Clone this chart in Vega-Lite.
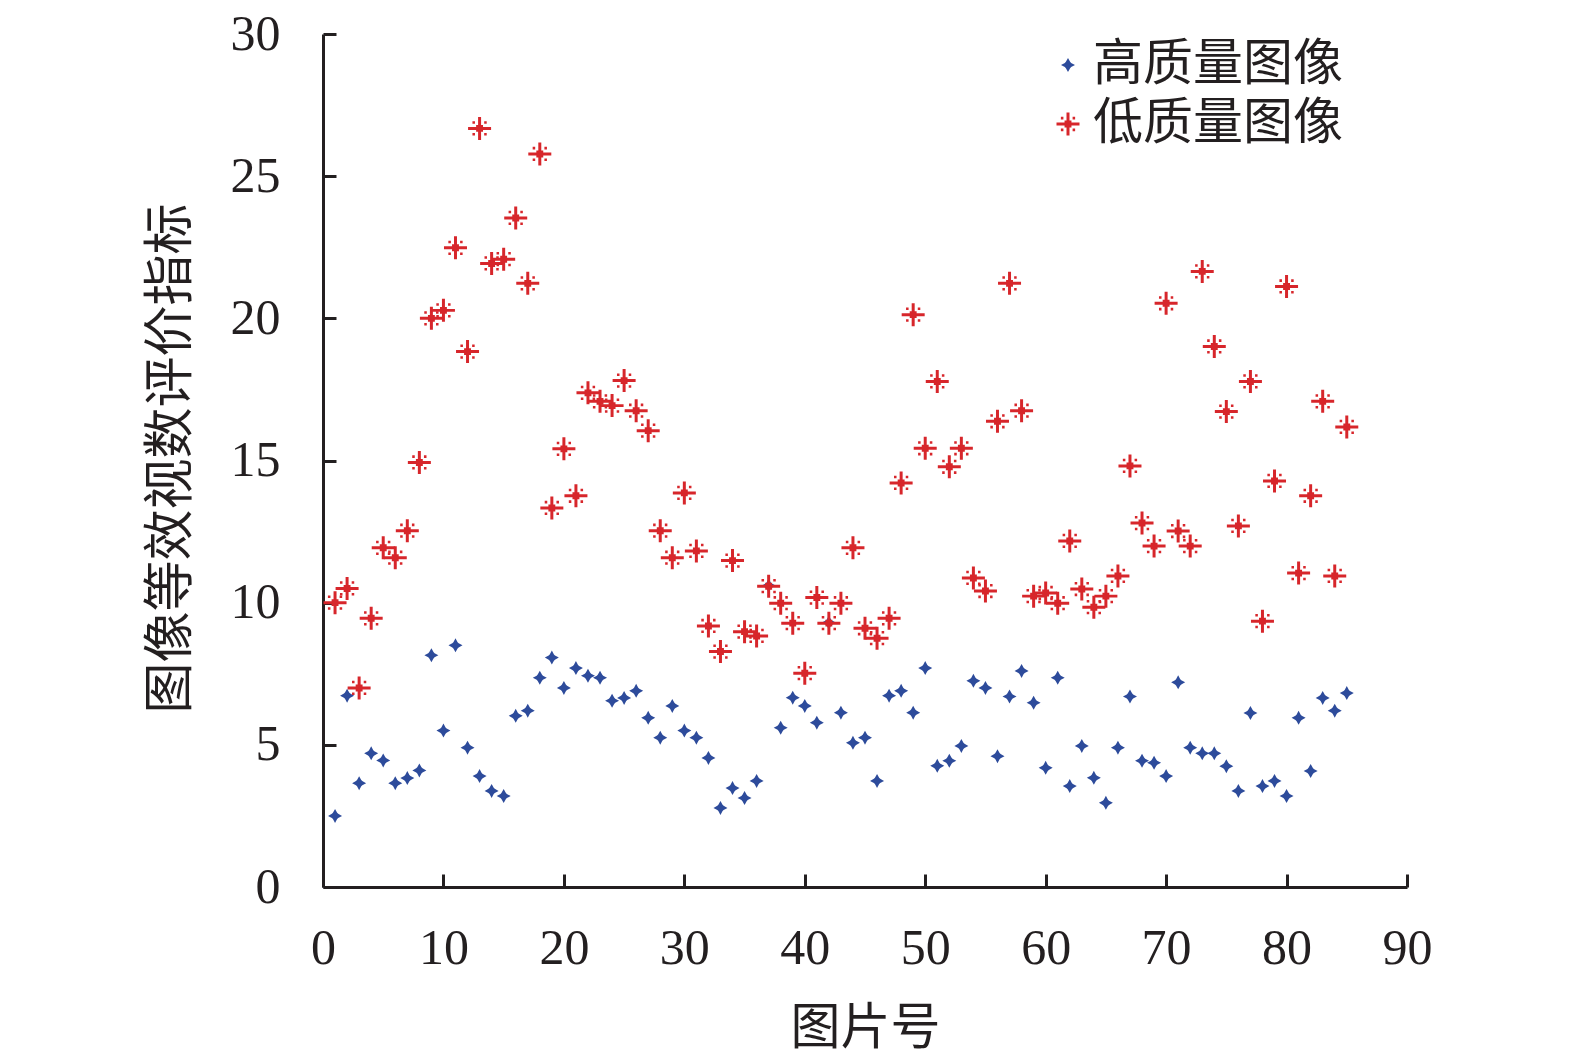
{
  "$schema": "https://vega.github.io/schema/vega-lite/v6.json",
  "width": 1084,
  "height": 853,
  "autosize": {"type": "none"},
  "padding": {"left": 323, "top": 34, "right": 168, "bottom": 172},
  "background": "white",
  "config": {
    "view": {"stroke": null},
    "axis": {"grid": false}
  },
  "datasets": {
    "points": [
      {"id":1,"value":2.5,"type":"高质量图像"},{"id":2,"value":6.73,"type":"高质量图像"},{"id":3,"value":3.65,"type":"高质量图像"},{"id":4,"value":4.7,"type":"高质量图像"},{"id":5,"value":4.45,"type":"高质量图像"},
      {"id":6,"value":3.65,"type":"高质量图像"},{"id":7,"value":3.83,"type":"高质量图像"},{"id":8,"value":4.1,"type":"高质量图像"},{"id":9,"value":8.15,"type":"高质量图像"},{"id":10,"value":5.5,"type":"高质量图像"},
      {"id":11,"value":8.5,"type":"高质量图像"},{"id":12,"value":4.9,"type":"高质量图像"},{"id":13,"value":3.9,"type":"高质量图像"},{"id":14,"value":3.38,"type":"高质量图像"},{"id":15,"value":3.2,"type":"高质量图像"},
      {"id":16,"value":6.02,"type":"高质量图像"},{"id":17,"value":6.2,"type":"高质量图像"},{"id":18,"value":7.36,"type":"高质量图像"},{"id":19,"value":8.07,"type":"高质量图像"},{"id":20,"value":7.0,"type":"高质量图像"},
      {"id":21,"value":7.7,"type":"高质量图像"},{"id":22,"value":7.43,"type":"高质量图像"},{"id":23,"value":7.36,"type":"高质量图像"},{"id":24,"value":6.55,"type":"高质量图像"},{"id":25,"value":6.65,"type":"高质量图像"},
      {"id":26,"value":6.9,"type":"高质量图像"},{"id":27,"value":5.95,"type":"高质量图像"},{"id":28,"value":5.25,"type":"高质量图像"},{"id":29,"value":6.37,"type":"高质量图像"},{"id":30,"value":5.5,"type":"高质量图像"},
      {"id":31,"value":5.25,"type":"高质量图像"},{"id":32,"value":4.54,"type":"高质量图像"},{"id":33,"value":2.78,"type":"高质量图像"},{"id":34,"value":3.48,"type":"高质量图像"},{"id":35,"value":3.13,"type":"高质量图像"},
      {"id":36,"value":3.73,"type":"高质量图像"},{"id":37,"value":10.6,"type":"高质量图像"},{"id":38,"value":5.6,"type":"高质量图像"},{"id":39,"value":6.66,"type":"高质量图像"},{"id":40,"value":6.37,"type":"高质量图像"},
      {"id":41,"value":5.78,"type":"高质量图像"},{"id":42,"value":9.3,"type":"高质量图像"},{"id":43,"value":6.13,"type":"高质量图像"},{"id":44,"value":5.07,"type":"高质量图像"},{"id":45,"value":5.25,"type":"高质量图像"},
      {"id":46,"value":3.73,"type":"高质量图像"},{"id":47,"value":6.73,"type":"高质量图像"},{"id":48,"value":6.9,"type":"高质量图像"},{"id":49,"value":6.13,"type":"高质量图像"},{"id":50,"value":7.7,"type":"高质量图像"},
      {"id":51,"value":4.26,"type":"高质量图像"},{"id":52,"value":4.44,"type":"高质量图像"},{"id":53,"value":4.96,"type":"高质量图像"},{"id":54,"value":7.25,"type":"高质量图像"},{"id":55,"value":7.0,"type":"高质量图像"},
      {"id":56,"value":4.6,"type":"高质量图像"},{"id":57,"value":6.7,"type":"高质量图像"},{"id":58,"value":7.6,"type":"高质量图像"},{"id":59,"value":6.48,"type":"高质量图像"},{"id":60,"value":4.19,"type":"高质量图像"},
      {"id":61,"value":7.36,"type":"高质量图像"},{"id":62,"value":3.55,"type":"高质量图像"},{"id":63,"value":4.96,"type":"高质量图像"},{"id":64,"value":3.84,"type":"高质量图像"},{"id":65,"value":2.96,"type":"高质量图像"},
      {"id":66,"value":4.9,"type":"高质量图像"},{"id":67,"value":6.7,"type":"高质量图像"},{"id":68,"value":4.44,"type":"高质量图像"},{"id":69,"value":4.37,"type":"高质量图像"},{"id":70,"value":3.9,"type":"高质量图像"},
      {"id":71,"value":7.2,"type":"高质量图像"},{"id":72,"value":4.9,"type":"高质量图像"},{"id":73,"value":4.7,"type":"高质量图像"},{"id":74,"value":4.7,"type":"高质量图像"},{"id":75,"value":4.25,"type":"高质量图像"},
      {"id":76,"value":3.38,"type":"高质量图像"},{"id":77,"value":6.12,"type":"高质量图像"},{"id":78,"value":3.55,"type":"高质量图像"},{"id":79,"value":3.73,"type":"高质量图像"},{"id":80,"value":3.2,"type":"高质量图像"},
      {"id":81,"value":5.95,"type":"高质量图像"},{"id":82,"value":4.08,"type":"高质量图像"},{"id":83,"value":6.65,"type":"高质量图像"},{"id":84,"value":6.2,"type":"高质量图像"},{"id":85,"value":6.82,"type":"高质量图像"},
      {"id":1,"value":10.0,"type":"低质量图像"},{"id":2,"value":10.5,"type":"低质量图像"},{"id":3,"value":7.0,"type":"低质量图像"},{"id":4,"value":9.45,"type":"低质量图像"},{"id":5,"value":11.93,"type":"低质量图像"},
      {"id":6,"value":11.58,"type":"低质量图像"},{"id":7,"value":12.53,"type":"低质量图像"},{"id":8,"value":14.93,"type":"低质量图像"},{"id":9,"value":20.0,"type":"低质量图像"},{"id":10,"value":20.28,"type":"低质量图像"},
      {"id":11,"value":22.48,"type":"低质量图像"},{"id":12,"value":18.83,"type":"低质量图像"},{"id":13,"value":26.68,"type":"低质量图像"},{"id":14,"value":21.93,"type":"低质量图像"},{"id":15,"value":22.08,"type":"低质量图像"},
      {"id":16,"value":23.53,"type":"低质量图像"},{"id":17,"value":21.23,"type":"低质量图像"},{"id":18,"value":25.78,"type":"低质量图像"},{"id":19,"value":13.33,"type":"低质量图像"},{"id":20,"value":15.41,"type":"低质量图像"},
      {"id":21,"value":13.76,"type":"低质量图像"},{"id":22,"value":17.38,"type":"低质量图像"},{"id":23,"value":17.08,"type":"低质量图像"},{"id":24,"value":16.93,"type":"低质量图像"},{"id":25,"value":17.81,"type":"低质量图像"},
      {"id":26,"value":16.75,"type":"低质量图像"},{"id":27,"value":16.05,"type":"低质量图像"},{"id":28,"value":12.53,"type":"低质量图像"},{"id":29,"value":11.58,"type":"低质量图像"},{"id":30,"value":13.86,"type":"低质量图像"},
      {"id":31,"value":11.82,"type":"低质量图像"},{"id":32,"value":9.18,"type":"低质量图像"},{"id":33,"value":8.28,"type":"低质量图像"},{"id":34,"value":11.48,"type":"低质量图像"},{"id":35,"value":8.98,"type":"低质量图像"},
      {"id":36,"value":8.83,"type":"低质量图像"},{"id":37,"value":10.58,"type":"低质量图像"},{"id":38,"value":9.98,"type":"低质量图像"},{"id":39,"value":9.28,"type":"低质量图像"},{"id":40,"value":7.52,"type":"低质量图像"},
      {"id":41,"value":10.18,"type":"低质量图像"},{"id":42,"value":9.28,"type":"低质量图像"},{"id":43,"value":9.98,"type":"低质量图像"},{"id":44,"value":11.93,"type":"低质量图像"},{"id":45,"value":9.1,"type":"低质量图像"},
      {"id":46,"value":8.75,"type":"低质量图像"},{"id":47,"value":9.45,"type":"低质量图像"},{"id":48,"value":14.21,"type":"低质量图像"},{"id":49,"value":20.13,"type":"低质量图像"},{"id":50,"value":15.43,"type":"低质量图像"},
      {"id":51,"value":17.78,"type":"低质量图像"},{"id":52,"value":14.78,"type":"低质量图像"},{"id":53,"value":15.43,"type":"低质量图像"},{"id":54,"value":10.87,"type":"低质量图像"},{"id":55,"value":10.41,"type":"低质量图像"},
      {"id":56,"value":16.38,"type":"低质量图像"},{"id":57,"value":21.23,"type":"低质量图像"},{"id":58,"value":16.75,"type":"低质量图像"},{"id":59,"value":10.23,"type":"低质量图像"},{"id":60,"value":10.34,"type":"低质量图像"},
      {"id":61,"value":9.98,"type":"低质量图像"},{"id":62,"value":12.17,"type":"低质量图像"},{"id":63,"value":10.48,"type":"低质量图像"},{"id":64,"value":9.84,"type":"低质量图像"},{"id":65,"value":10.23,"type":"低质量图像"},
      {"id":66,"value":10.94,"type":"低质量图像"},{"id":67,"value":14.81,"type":"低质量图像"},{"id":68,"value":12.8,"type":"低质量图像"},{"id":69,"value":11.99,"type":"低质量图像"},{"id":70,"value":20.53,"type":"低质量图像"},
      {"id":71,"value":12.52,"type":"低质量图像"},{"id":72,"value":11.99,"type":"低质量图像"},{"id":73,"value":21.65,"type":"低质量图像"},{"id":74,"value":19.01,"type":"低质量图像"},{"id":75,"value":16.72,"type":"低质量图像"},
      {"id":76,"value":12.7,"type":"低质量图像"},{"id":77,"value":17.78,"type":"低质量图像"},{"id":78,"value":9.35,"type":"低质量图像"},{"id":79,"value":14.28,"type":"低质量图像"},{"id":80,"value":21.12,"type":"低质量图像"},
      {"id":81,"value":11.04,"type":"低质量图像"},{"id":82,"value":13.76,"type":"低质量图像"},{"id":83,"value":17.08,"type":"低质量图像"},{"id":84,"value":10.94,"type":"低质量图像"},{"id":85,"value":16.18,"type":"低质量图像"}
    ]
  },
  "data": {"name": "points"},
  "mark": {"type": "point", "filled": true, "opacity": 1, "strokeWidth": 0},
  "encoding": {
    "x": {
      "field": "id", "type": "quantitative",
      "scale": {"domain": [0, 90], "nice": false, "zero": false},
      "axis": {
        "values": [0, 10, 20, 30, 40, 50, 60, 70, 80, 90],
        "domainColor": "#231f20", "domainWidth": 3,
        "tickColor": "#231f20", "tickWidth": 3, "tickSize": -13,
        "labelPadding": 49, "labelFont": "Liberation Serif", "labelFontSize": 50, "labelColor": "#231f20",
        "labelFlush": false, "labelOverlap": false,
        "title": "图片号", "titleFont": "Noto Sans CJK SC", "titleFontSize": 50, "titleFontWeight": "normal",
        "titleColor": "#231f20", "titleX": 542, "titleY": 141, "titleBaseline": "middle", "titleAlign": "center"
      }
    },
    "y": {
      "field": "value", "type": "quantitative",
      "scale": {"domain": [0, 30], "nice": false},
      "axis": {
        "values": [0, 5, 10, 15, 20, 25, 30],
        "domainColor": "#231f20", "domainWidth": 3,
        "tickColor": "#231f20", "tickWidth": 3, "tickSize": -13,
        "labelPadding": 56, "labelFont": "Liberation Serif", "labelFontSize": 50, "labelColor": "#231f20",
        "labelFlush": false, "labelOverlap": false,
        "title": "图像等效视数评价指标", "titleFont": "Noto Sans CJK SC", "titleFontSize": 51, "titleFontWeight": "normal",
        "titleColor": "#231f20", "titleX": -152, "titleY": 424, "titleAngle": -90, "titleBaseline": "middle", "titleAlign": "center"
      }
    },
    "color": {
      "field": "type", "type": "nominal",
      "scale": {"domain": ["高质量图像", "低质量图像"], "range": ["#2d4b9b", "#d7262b"]},
      "legend": {
        "title": null, "orient": "none", "legendX": 720, "legendY": 6, "padding": 0,
        "labelFont": "Noto Sans CJK SC", "labelFontSize": 50, "labelColor": "#231f20", "labelLimit": 500,
        "labelOffset": 0, "rowPadding": 9, "symbolStrokeWidth": 0, "symbolOpacity": 1
      }
    },
    "shape": {
      "field": "type", "type": "nominal",
      "scale": {"domain": ["高质量图像", "低质量图像"], "range": [
        "M0,-1L0.3,-0.45L0.45,-0.3L1,0L0.45,0.3L0.3,0.45L0,1L-0.3,0.45L-0.45,0.3L-1,0L-0.45,-0.3L-0.3,-0.45Z",
        "M-1,-0.13H1V0.13H-1Z M-0.13,-1H0.13V1H-0.13Z M-0.3,-0.3H0.3V0.3H-0.3Z M-0.62,-0.62H-0.4V-0.4H-0.62Z M0.4,-0.62H0.62V-0.4H0.4Z M-0.62,0.4H-0.4V0.62H-0.62Z M0.4,0.4H0.62V0.62H0.4Z"
      ]}
    },
    "size": {
      "field": "type", "type": "nominal",
      "scale": {"domain": ["高质量图像", "低质量图像"], "range": [196, 529]}
    }
  }
}
